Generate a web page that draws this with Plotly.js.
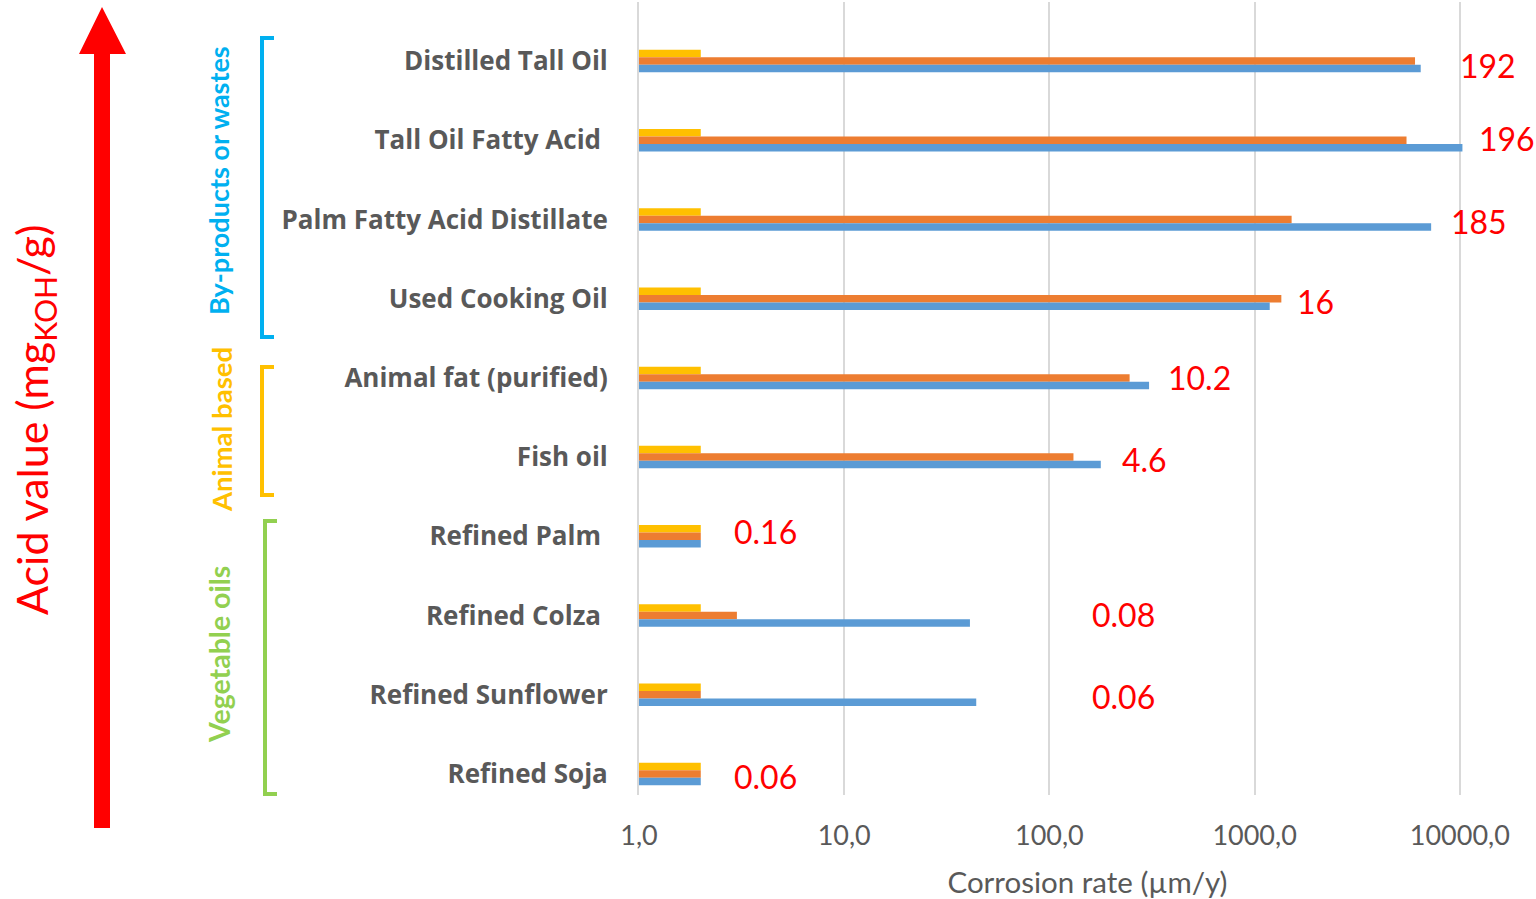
<!DOCTYPE html>
<html>
<head>
<meta charset="utf-8">
<script src="https://cdn.plot.ly/plotly-3.0.1.min.js"></script>
<style>
  html, body { margin: 0; padding: 0; background: #ffffff; }
  #chart { width: 1536px; height: 899px; }
</style>
</head>
<body>
<div id="chart"></div>
<script>
// Feedstocks, ordered from highest to lowest acid value
const categories = [
  'Distilled Tall Oil',
  'Tall Oil Fatty Acid',
  'Palm Fatty Acid Distillate',
  'Used Cooking Oil',
  'Animal fat (purified)',
  'Fish oil',
  'Refined Palm',
  'Refined Colza',
  'Refined Sunflower',
  'Refined Soja'
];
const categoryLabels = [
  'Distilled Tall Oil',
  'Tall Oil Fatty Acid\u00a0',
  'Palm Fatty Acid Distillate',
  'Used Cooking Oil',
  'Animal fat (purified)',
  'Fish oil',
  'Refined Palm\u00a0',
  'Refined Colza\u00a0',
  'Refined Sunflower',
  'Refined Soja'
];

// Corrosion rates (µm/y), three series per feedstock
const seriesYellow = [2, 2, 2, 2, 2, 2, 2, 2, 2, 2];
const seriesOrange = [6050, 5500, 1515, 1350, 246, 131, 2, 3, 2, 2];
const seriesBlue   = [6450, 10300, 7250, 1185, 306, 178, 2, 41, 44, 2];

// Acid value of each feedstock (mgKOH/g)
const acidValues = ['192', '196', '185', '16', '10.2', '4.6', '0.16', '0.08', '0.06', '0.06'];

const xTickValues = [1, 10, 100, 1000, 10000];
const xTickLabels = ['1,0', '10,0', '100,0', '1000,0', '10000,0'];

// ---- layout geometry (pixels) ----
const PL = 639, PR = 1536, PT = 2, PB = 795;
const PW = PR - PL, PH = PB - PT;
const DECADE = 205.2;                 // pixels per decade on the log axis
const X_MAX = PW / DECADE;            // log10 of the right edge
const CAT0 = 61, CAT_STEP = 79.22;    // pixel centre of first row, row pitch
const Y_TOP = -(CAT0 - PT) / CAT_STEP;
const Y_BOT = (categories.length - 1) + (PB - (CAT0 + (categories.length - 1) * CAT_STEP)) / CAT_STEP;

const px = v => (v - PL) / PW;        // pixel x -> paper x
const py = v => (PB - v) / PH;        // pixel y -> paper y
const lx = v => (v - PL) / DECADE;    // pixel x -> log10 data x
const ly = v => (v - CAT0) / CAT_STEP;// pixel y -> category position

// placement of the acid value labels (left edge x, centre y), in pixels
const acidLabelPos = [
  [1458, 65], [1477, 138], [1449, 221], [1295, 301], [1166, 377],
  [1120, 459], [732, 531], [1090, 614], [1090, 696], [732, 776]
];

const barTrace = (values, color, name) => ({
  type: 'bar',
  orientation: 'h',
  name: name,
  x: values,
  y: categories,
  marker: { color: color, line: { width: 0 } },
  hoverinfo: 'x+y'
});

const data = [
  barTrace(seriesYellow, '#ffc000', 'Series 1'),
  barTrace(seriesOrange, '#ed7d31', 'Series 2'),
  barTrace(seriesBlue,   '#5b9bd5', 'Series 3')
];

const red = '#ff0000';
const annotations = acidValues.map((t, i) => ({
  xref: 'x', yref: 'y',
  x: lx(acidLabelPos[i][0]),
  y: ly(acidLabelPos[i][1]),
  text: t,
  showarrow: false,
  xanchor: 'left', yanchor: 'middle',
  font: { family: 'Lato, "Open Sans", sans-serif', size: 32, color: red }
}));

const sideLabel = (text, cx, cy, color, size, weight) => ({
  xref: 'paper', yref: 'paper',
  x: px(cx), y: py(cy),
  text: text,
  textangle: -90,
  showarrow: false,
  xanchor: 'center', yanchor: 'middle',
  font: { family: 'Lato, "Open Sans", sans-serif', size: size, color: color, weight: weight }
});

annotations.push(
  sideLabel('Acid value (mg<sub>KOH</sub>/g)', 34, 420, red, 43, 'normal'),
  sideLabel('By-products or wastes', 218, 181, '#00b0f0', 27, 'bold'),
  sideLabel('Animal based', 221, 430, '#ffc000', 27.5, 'bold'),
  sideLabel('Vegetable oils', 219, 655, '#92d050', 28.5, 'bold')
);

const bracket = (x, x2, y1, y2, color) => ({
  type: 'path', xref: 'paper', yref: 'paper',
  path: `M ${px(x2)},${py(y1)} L ${px(x)},${py(y1)} L ${px(x)},${py(y2)} L ${px(x2)},${py(y2)}`,
  line: { color: color, width: 4 }
});

const shapes = [
  // rising acid value arrow
  {
    type: 'path', xref: 'paper', yref: 'paper',
    path: `M ${px(94)},${py(828)} L ${px(110)},${py(828)} L ${px(110)},${py(54)} ` +
          `L ${px(126)},${py(54)} L ${px(102)},${py(7)} L ${px(79)},${py(54)} ` +
          `L ${px(94)},${py(54)} Z`,
    fillcolor: red, line: { width: 0 }
  },
  bracket(262, 274, 38, 337, '#00b0f0'),
  bracket(262, 274, 367, 495, '#ffc000'),
  bracket(265, 277, 521, 794, '#92d050')
];

const layout = {
  width: 1536, height: 899,
  margin: { l: PL, r: 1536 - PR, t: PT, b: 899 - PB, pad: 0 },
  paper_bgcolor: '#ffffff',
  plot_bgcolor: '#ffffff',
  showlegend: false,
  barmode: 'group',
  bargap: 0.716,
  bargroupgap: 0,
  xaxis: {
    type: 'log',
    range: [0, X_MAX],
    tickmode: 'array',
    tickvals: xTickValues,
    ticktext: xTickLabels,
    ticks: '',
    ticklabelstandoff: 22,
    tickfont: { family: 'Lato, "Open Sans", sans-serif', size: 27, color: '#595959' },
    showgrid: true, gridcolor: '#d9d9d9', gridwidth: 2,
    zeroline: false, showline: false,
    title: {
      text: 'Corrosion rate (µm/y)',
      standoff: 22,
      font: { family: 'Lato, "Open Sans", sans-serif', size: 29.5, color: '#595959' }
    },
    automargin: false,
    fixedrange: true
  },
  yaxis: {
    type: 'category',
    categoryorder: 'array',
    categoryarray: categories,
    range: [Y_BOT, Y_TOP],
    tickmode: 'array',
    tickvals: categories,
    ticktext: categoryLabels,
    ticks: '',
    ticklabelstandoff: 24,
    tickfont: { family: '"Open Sans", sans-serif', size: 26, color: '#595959', weight: 'bold' },
    showgrid: false,
    zeroline: false,
    showline: true, linecolor: '#d9d9d9', linewidth: 2,
    automargin: false,
    fixedrange: true
  },
  annotations: annotations,
  shapes: shapes
};

Plotly.newPlot('chart', data, layout, { displayModeBar: false, staticPlot: true });
</script>
</body>
</html>
